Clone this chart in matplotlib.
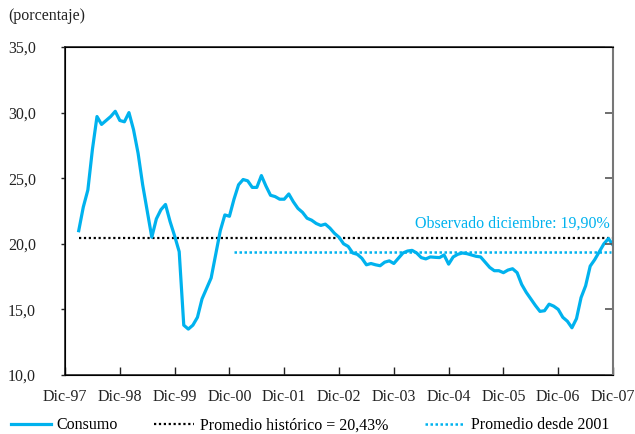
import matplotlib.pyplot as plt
import numpy as np

plt.rcParams['font.family'] = ['Liberation Serif', 'DejaVu Serif']

# tasa de ahorro consumo, mensual desde mar-98 hasta dic-07
consumo = [
    21.0, 22.8, 24.1, 27.2, 29.7, 29.1, 29.4, 29.7, 30.1, 29.4,      # mar-98 .. dic-98
    29.3, 30.0, 28.7, 26.9, 24.5, 22.5, 20.5, 21.9, 22.6, 23.0, 21.7, 20.6,  # 1999
    19.4, 13.8, 13.5, 13.8, 14.4, 15.8, 16.6, 17.4, 19.2, 21.0, 22.2, 22.1,  # 2000
    23.4, 24.5, 24.9, 24.8, 24.3, 24.3, 25.2, 24.4, 23.7, 23.6, 23.4, 23.4,  # 2001
    23.8, 23.2, 22.7, 22.4, 21.95, 21.8, 21.55, 21.4, 21.5, 21.2, 20.8, 20.5,  # 2002
    20.0, 19.8, 19.3, 19.2, 18.9, 18.4, 18.5, 18.4, 18.33, 18.6, 18.7, 18.5,  # 2003
    18.9, 19.3, 19.45, 19.5, 19.3, 18.95, 18.85, 19.0, 18.97, 18.95, 19.15, 18.45,  # 2004
    19.0, 19.2, 19.3, 19.25, 19.15, 19.05, 19.0, 18.6, 18.2, 17.95, 17.95, 17.8,  # 2005
    18.0, 18.1, 17.8, 16.9, 16.3, 15.8, 15.3, 14.85, 14.9, 15.4, 15.25, 15.0,  # 2006
    14.4, 14.1, 13.6, 14.3, 15.9, 16.8, 18.3, 18.8, 19.4, 20.0, 20.4, 19.9,  # 2007
]
inicio = 3  # meses desde dic-97
meses = np.arange(inicio, inicio + len(consumo))

prom_historico = 20.43
prom_2001 = 19.4
mes_2001 = 37  # ene-01

ticks_x = np.arange(0, 121, 12)
etiquetas_x = ['Dic-97', 'Dic-98', 'Dic-99', 'Dic-00', 'Dic-01', 'Dic-02',
               'Dic-03', 'Dic-04', 'Dic-05', 'Dic-06', 'Dic-07']
ticks_y = [10, 15, 20, 25, 30, 35]

azul = '#00B2EE'

fig = plt.figure(figsize=(6.35, 4.34), dpi=100)
ax = fig.add_axes([0.1024, 0.1359, 0.863, 0.7558])

# eje derecho solo para las marcas hacia adentro
ax2 = ax.twinx()
ax2.set_ylim(10, 35)
ax2.set_yticks(ticks_y)
ax2.tick_params(axis='y', direction='in', length=6, width=1.2,
                colors='#555555', labelright=False)
ax2.spines['right'].set_color('#777777')
ax2.spines['right'].set_linewidth(1.5)

ax.plot(meses, consumo, color=azul, lw=2.3, label='Consumo', zorder=3)
ax.plot([meses[0], 120], [prom_historico] * 2, color='black', lw=1.6,
        linestyle=(0, (1, 1.2)), label='Promedio histórico = 20,43%')
ax.plot([mes_2001, 119.5], [prom_2001] * 2, color=azul, lw=1.8,
        linestyle=(0, (1, 1.0)), label='Promedio desde 2001')

ax.text(119.2, 21.5, 'Observado diciembre: 19,90%', color=azul,
        fontsize=11.5, ha='right', va='center')

ax.set_xlim(0, 120)
ax.set_ylim(10, 35)
ax.set_xticks(ticks_x)
ax.set_xticklabels(etiquetas_x)
ax.set_yticks(ticks_y)
ax.set_yticklabels([f'{v:.1f}'.replace('.', ',') for v in ticks_y])

ax.tick_params(axis='x', direction='in', length=6, width=1, pad=10,
               labelsize=11.5, colors='#222222')
ax.tick_params(axis='y', direction='out', length=3, width=1, pad=18,
               labelsize=11.5, colors='#222222')

ax.spines['right'].set_visible(False)
for s in ['left', 'bottom', 'top']:
    ax.spines[s].set_color('#222222')
    ax.spines[s].set_linewidth(1.2)

fig.text(0.013, 0.962, '(porcentaje)', fontsize=11.5, color='#222222',
         ha='left', va='center')

ax.legend(loc='center left', bbox_to_anchor=(0.017, 0.02),
          bbox_transform=fig.transFigure, ncol=3, frameon=False,
          fontsize=11.5, handlelength=2.5, handletextpad=0.35,
          columnspacing=2.3, borderaxespad=0, borderpad=0)

fig.savefig('out.png', dpi=100)
